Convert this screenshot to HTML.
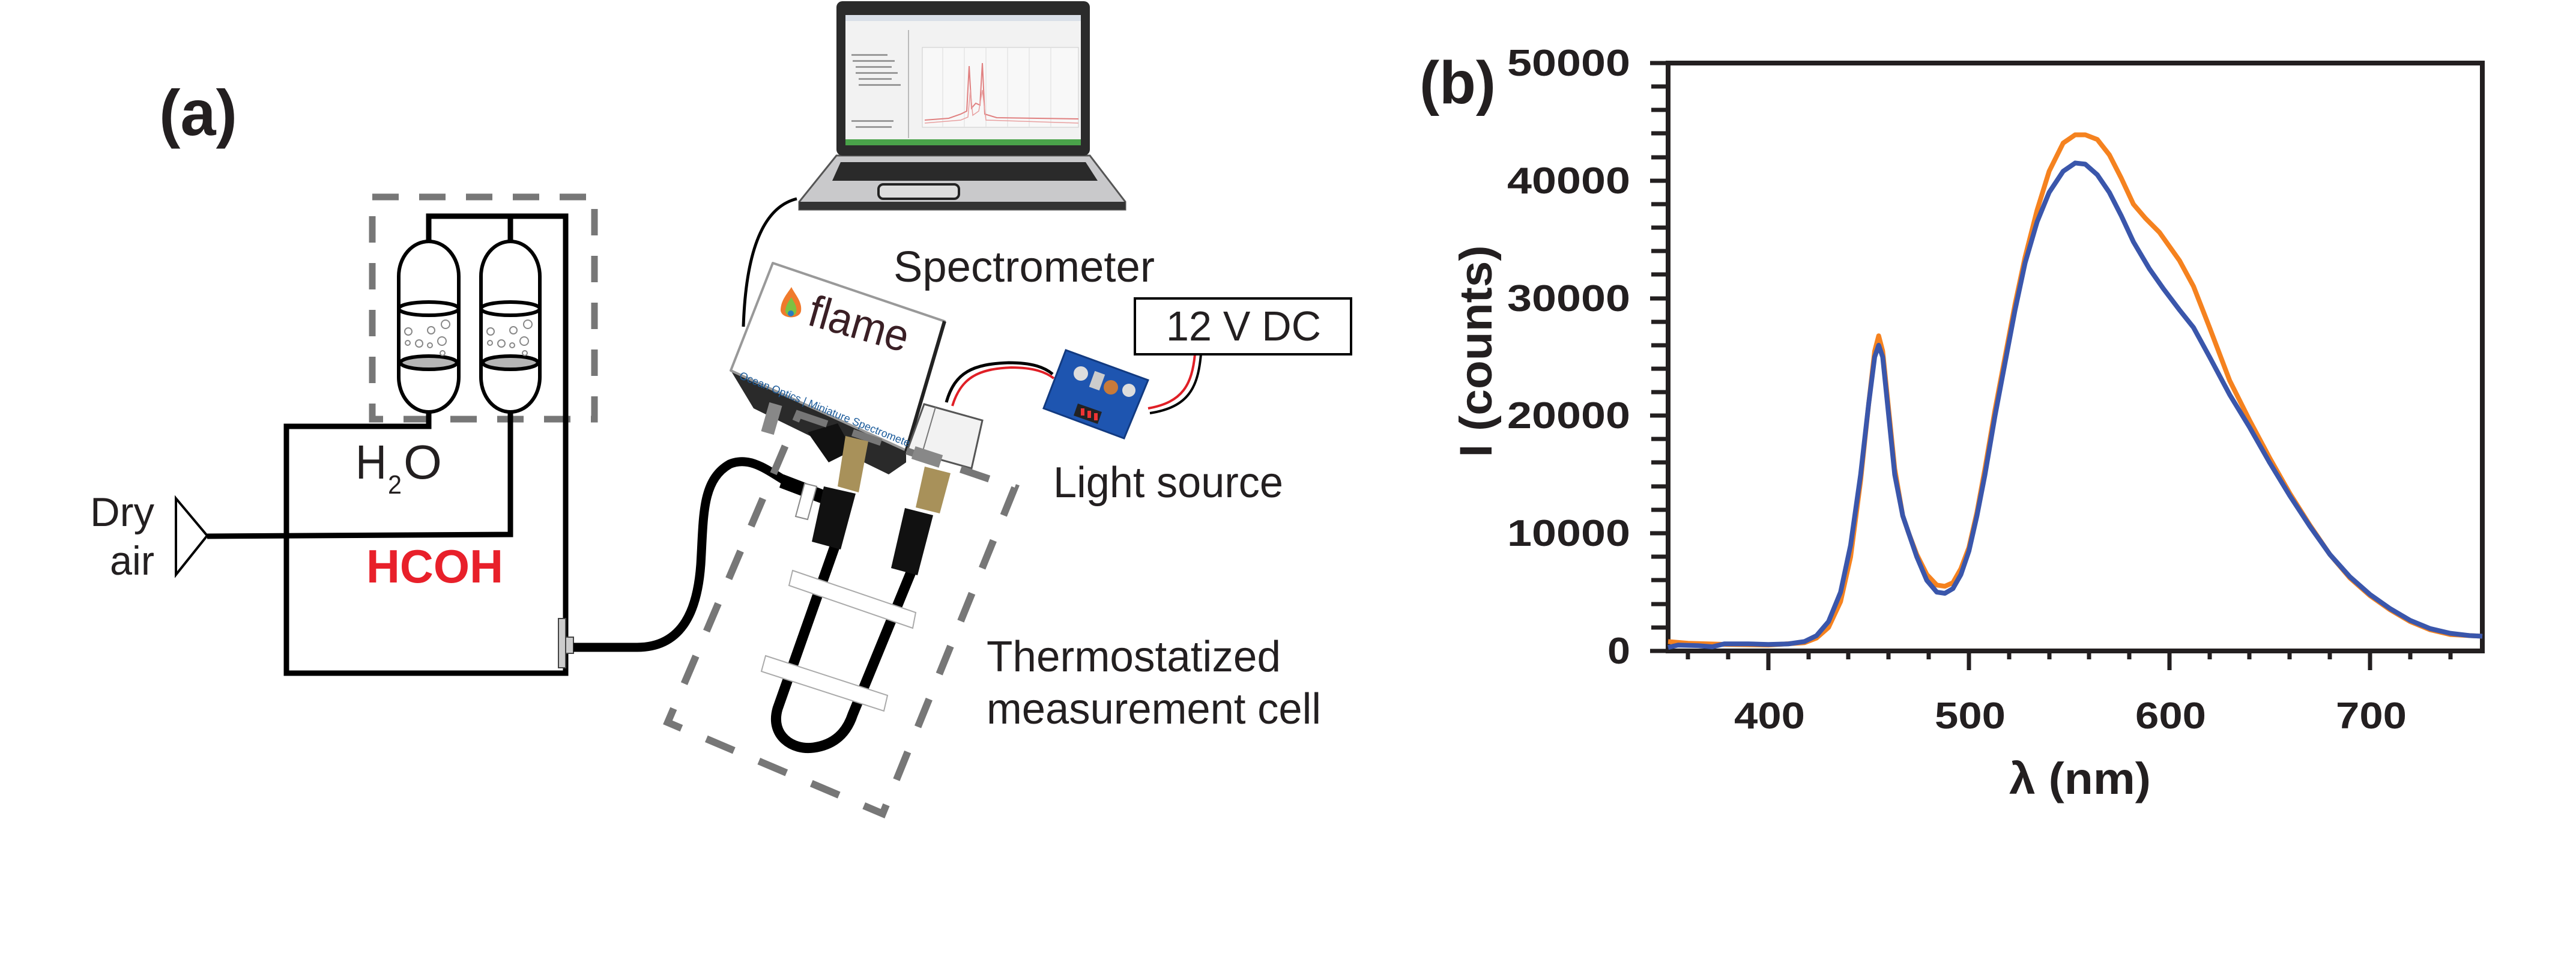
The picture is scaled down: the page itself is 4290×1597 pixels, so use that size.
<!DOCTYPE html>
<html><head><meta charset="utf-8"><style>
html,body{margin:0;padding:0;background:#fff;}
svg{display:block;}
text{font-family:"Liberation Sans",sans-serif;fill:#231f20;}
</style></head><body>
<svg width="4290" height="1597" viewBox="0 0 4290 1597" xmlns="http://www.w3.org/2000/svg">
<rect width="4290" height="1597" fill="#fff"/>

<!-- (a) label -->
<text x="265" y="225" font-size="108" font-weight="bold" textLength="130" lengthAdjust="spacingAndGlyphs">(a)</text>

<!-- dashed box around bubblers -->
<rect x="620" y="328" width="370" height="370" fill="none" stroke="#777" stroke-width="11" stroke-dasharray="44 34"/>

<!-- pipes -->
<g stroke="#000" stroke-width="9" fill="none" stroke-linejoin="miter">
  <polyline points="714,401 714,360 942,360 942,1121 477,1121 477,710 714,710 714,687"/>
  <line x1="850" y1="360" x2="850" y2="401"/>
  <polyline points="345,893 850,890 850,687"/>
</g>

<!-- bubblers -->
<g stroke="#000" stroke-width="6" fill="#fff">
  <rect x="664" y="402" width="100" height="284" rx="50" ry="58"/>
  <rect x="801" y="402" width="98" height="284" rx="49" ry="58"/>
</g>
<g stroke="#000" stroke-width="6">
  <ellipse cx="714" cy="514" rx="50" ry="11" fill="#fff"/>
  <ellipse cx="714" cy="604" rx="47" ry="11" fill="#b5b5b5"/>
  <ellipse cx="850" cy="514" rx="49" ry="11" fill="#fff"/>
  <ellipse cx="850" cy="604" rx="46" ry="11" fill="#b5b5b5"/>
</g>
<g stroke="#888" stroke-width="2" fill="none">
  <circle cx="680" cy="552" r="6"/><circle cx="718" cy="550" r="6"/><circle cx="742" cy="540" r="7"/>
  <circle cx="679" cy="571" r="4"/><circle cx="698" cy="572" r="6"/><circle cx="716" cy="575" r="4"/><circle cx="736" cy="568" r="7"/><circle cx="737" cy="588" r="4"/>
  <circle cx="817" cy="552" r="6"/><circle cx="855" cy="550" r="6"/><circle cx="879" cy="540" r="7"/>
  <circle cx="816" cy="571" r="4"/><circle cx="835" cy="572" r="6"/><circle cx="853" cy="575" r="4"/><circle cx="873" cy="568" r="7"/><circle cx="874" cy="588" r="4"/>
</g>

<!-- dry air triangle -->
<polygon points="293,830 345,892 293,957" fill="#fff" stroke="#000" stroke-width="4"/>
<text x="257" y="876" font-size="68" text-anchor="end" textLength="107" lengthAdjust="spacingAndGlyphs">Dry</text>
<text x="257" y="957" font-size="68" text-anchor="end" textLength="74" lengthAdjust="spacingAndGlyphs">air</text>

<!-- H2O / HCOH -->
<text x="592" y="797" font-size="80" textLength="52" lengthAdjust="spacingAndGlyphs">H</text>
<text x="646" y="822" font-size="44" textLength="23" lengthAdjust="spacingAndGlyphs">2</text>
<text x="672" y="797" font-size="80" textLength="64" lengthAdjust="spacingAndGlyphs">O</text>
<text x="610" y="970" font-size="78" font-weight="bold" style="fill:#e8202a" textLength="228" lengthAdjust="spacingAndGlyphs">HCOH</text>

<!-- connector -->
<rect x="930" y="1030" width="12" height="82" fill="#ccc" stroke="#444" stroke-width="2"/>
<rect x="942" y="1061" width="13" height="27" fill="#ccc" stroke="#444" stroke-width="2"/>

<!-- black tube to cell -->
<path d="M955,1078 L1061,1078 C1140,1078 1162,1010 1167,940 C1172,860 1168,800 1215,773 C1250,758 1280,785 1315,805" fill="none" stroke="#000" stroke-width="15"/>
<polygon points="1305,790 1378,818 1372,840 1298,812" fill="#000"/>

<!-- laptop -->
<path d="M1393,259 L1815,259 L1874,336 L1874,349 L1331,349 L1331,336 Z" fill="#c9c9cb" stroke="#555" stroke-width="3"/>
<rect x="1331" y="336" width="543" height="13" fill="#333"/>
<polygon points="1400,270 1808,270 1828,301 1386,301" fill="#2a2a2a"/>
<rect x="1463" y="307" width="134" height="24" rx="8" fill="#ddd" stroke="#222" stroke-width="4"/>
<rect x="1393" y="2" width="422" height="257" rx="10" fill="#2b2b2b"/>
<rect x="1408" y="25" width="392" height="217" fill="#f2f2f2"/>
<rect x="1408" y="25" width="392" height="10" fill="#d9dfe8"/>
<rect x="1408" y="232" width="392" height="10" fill="#4aa34a"/>
<rect x="1512" y="50" width="2" height="180" fill="#bbb"/>
<rect x="1536" y="79" width="260" height="133" fill="#f8f8f8" stroke="#ccc" stroke-width="1"/>
<g stroke="#ddd" stroke-width="1">
<line x1="1570" y1="79" x2="1570" y2="212"/><line x1="1606" y1="79" x2="1606" y2="212"/><line x1="1642" y1="79" x2="1642" y2="212"/><line x1="1678" y1="79" x2="1678" y2="212"/><line x1="1714" y1="79" x2="1714" y2="212"/><line x1="1750" y1="79" x2="1750" y2="212"/>
</g>
<path d="M1540,200 L1580,197 L1600,190 L1610,185 L1614,110 L1618,180 L1625,172 L1632,175 L1636,105 L1640,190 L1660,196 L1796,198" fill="none" stroke="#e08080" stroke-width="2"/>
<path d="M1540,205 L1600,200 L1612,195 L1616,150 L1620,192 L1630,185 L1636,150 L1642,200 L1796,205" fill="none" stroke="#e8a0a0" stroke-width="1.5"/>
<g fill="#999"><rect x="1418" y="90" width="60" height="3"/><rect x="1420" y="100" width="70" height="3"/><rect x="1425" y="110" width="60" height="3"/><rect x="1425" y="120" width="70" height="3"/><rect x="1430" y="130" width="55" height="3"/><rect x="1430" y="140" width="70" height="3"/><rect x="1418" y="200" width="70" height="3"/><rect x="1425" y="210" width="60" height="3"/></g>
<path d="M1327,331 C1270,345 1242,420 1238,544" fill="none" stroke="#000" stroke-width="5"/>

<!-- spectrometer -->
<polygon points="1217,617 1255,680 1480,790 1509,770 1509,750" fill="#2a2a2a"/>
<polygon points="1345,720 1395,705 1420,750 1380,770" fill="#111"/>
<polygon points="1287,438 1573,535 1509,750 1217,617" fill="#fff" stroke="#999" stroke-width="4" stroke-linejoin="round"/>
<line x1="1573" y1="535" x2="1509" y2="752" stroke="#222" stroke-width="6"/>
<path d="M1300,517 C1300,500 1312,488 1318,478 C1325,492 1336,502 1334,518 C1332,532 1302,532 1300,517 Z" fill="#f07a2c"/>
<path d="M1308,518 C1308,508 1315,500 1318,495 C1322,503 1328,510 1326,520 C1324,528 1309,528 1308,518 Z" fill="#7cc242"/>
<circle cx="1317" cy="522" r="5" fill="#2a7bbf"/>
<text x="0" y="0" font-size="74" transform="translate(1342,540) rotate(16)" style="fill:#3a1f25" textLength="170" lengthAdjust="spacingAndGlyphs">flame</text>
<text x="0" y="0" font-size="18" transform="translate(1230,630) rotate(22)" style="fill:#1a5a9a">Ocean Optics | Miniature Spectrometer</text>

<!-- light source -->
<polygon points="1539,673 1636,700 1618,780 1511,750" fill="#f2f2f2" stroke="#555" stroke-width="3"/>
<line x1="1558" y1="678" x2="1535" y2="757" stroke="#777" stroke-width="2"/>

<!-- wires -->
<path d="M1576,670 C1590,620 1620,606 1680,604 C1720,604 1740,612 1753,623" fill="none" stroke="#000" stroke-width="5"/>
<path d="M1586,676 C1600,630 1628,614 1684,612 C1722,612 1742,620 1755,630" fill="none" stroke="#e01f26" stroke-width="4"/>
<path d="M1990,590 C1985,640 1970,670 1912,680" fill="none" stroke="#e01f26" stroke-width="4"/>
<path d="M2000,590 C1995,645 1980,678 1915,688" fill="none" stroke="#000" stroke-width="4"/>

<!-- driver board -->
<polygon points="1775,583 1912,633 1872,730 1738,680" fill="#1e55b0" stroke="#123a80" stroke-width="3"/>
<circle cx="1800" cy="622" r="12" fill="#ddd"/>
<circle cx="1880" cy="650" r="11" fill="#ddd"/>
<circle cx="1850" cy="645" r="12" fill="#c87a3a"/>
<rect x="1818" y="620" width="18" height="28" fill="#ccc" transform="rotate(20 1827 634)"/>
<polygon points="1795,672 1835,686 1828,706 1788,692" fill="#222"/>
<g fill="#e33"><rect x="1800" y="680" width="6" height="12"/><rect x="1811" y="684" width="6" height="12"/><rect x="1822" y="688" width="6" height="12"/></g>

<!-- 12 V DC box -->
<rect x="1890" y="497" width="360" height="93" fill="#fff" stroke="#000" stroke-width="4"/>
<text x="1942" y="567" font-size="70" textLength="258" lengthAdjust="spacingAndGlyphs">12 V DC</text>

<!-- labels -->
<text x="1488" y="469" font-size="72" textLength="435" lengthAdjust="spacingAndGlyphs">Spectrometer</text>
<text x="1754" y="828" font-size="72" textLength="383" lengthAdjust="spacingAndGlyphs">Light source</text>
<text x="1643" y="1118" font-size="72" textLength="490" lengthAdjust="spacingAndGlyphs">Thermostatized</text>
<text x="1643" y="1205" font-size="72" textLength="557" lengthAdjust="spacingAndGlyphs">measurement cell</text>

<!-- measurement cell dashed box -->
<polygon points="1330,690 1690,812 1470,1355 1112,1203" fill="none" stroke="#777" stroke-width="12" stroke-dasharray="50 45"/>

<!-- U tube -->
<path d="M1392,905 L1295,1180 C1282,1225 1320,1250 1355,1245 C1390,1240 1410,1220 1420,1190 L1520,946" fill="none" stroke="#000" stroke-width="17"/>
<!-- ferrules -->
<polygon points="1408,726 1446,735 1430,820 1395,810" fill="#a8915a"/>
<polygon points="1540,777 1583,788 1565,855 1525,845" fill="#a8915a"/>
<!-- black connectors -->
<polygon points="1372,810 1425,822 1400,915 1352,902" fill="#111"/>
<polygon points="1507,846 1554,858 1528,958 1484,946" fill="#111"/>
<!-- white clip -->
<polygon points="1340,805 1360,810 1345,865 1325,860" fill="#fff" stroke="#888" stroke-width="2"/>
<!-- white bands -->
<polygon points="1320,950 1525,1020 1520,1046 1314,975" fill="#fff" stroke="#aaa" stroke-width="2"/>
<polygon points="1275,1092 1478,1158 1472,1184 1268,1118" fill="#fff" stroke="#aaa" stroke-width="2"/>
<!-- spectrometer port tabs -->
<rect x="1274" y="672" width="22" height="50" fill="#888" transform="rotate(16 1285 697)"/>
<rect x="1520" y="750" width="48" height="22" fill="#888" transform="rotate(18 1544 761)"/>

<!-- (b) plot -->
<text x="2364" y="172" font-size="100" font-weight="bold" textLength="127" lengthAdjust="spacingAndGlyphs">(b)</text>
<rect x="2778" y="105" width="1356" height="979" fill="none" stroke="#231f20" stroke-width="8"/>
<g stroke="#231f20" stroke-width="7">
<line x1="2748" y1="1084" x2="2778" y2="1084"/><line x1="2750" y1="1045" x2="2778" y2="1045"/><line x1="2750" y1="1006" x2="2778" y2="1006"/><line x1="2750" y1="966" x2="2778" y2="966"/><line x1="2750" y1="927" x2="2778" y2="927"/>
<line x1="2748" y1="888" x2="2778" y2="888"/><line x1="2750" y1="849" x2="2778" y2="849"/><line x1="2750" y1="810" x2="2778" y2="810"/><line x1="2750" y1="770" x2="2778" y2="770"/><line x1="2750" y1="731" x2="2778" y2="731"/>
<line x1="2748" y1="692" x2="2778" y2="692"/><line x1="2750" y1="653" x2="2778" y2="653"/><line x1="2750" y1="614" x2="2778" y2="614"/><line x1="2750" y1="575" x2="2778" y2="575"/><line x1="2750" y1="536" x2="2778" y2="536"/>
<line x1="2748" y1="497" x2="2778" y2="497"/><line x1="2750" y1="457" x2="2778" y2="457"/><line x1="2750" y1="418" x2="2778" y2="418"/><line x1="2750" y1="379" x2="2778" y2="379"/><line x1="2750" y1="340" x2="2778" y2="340"/>
<line x1="2748" y1="301" x2="2778" y2="301"/><line x1="2750" y1="262" x2="2778" y2="262"/><line x1="2750" y1="222" x2="2778" y2="222"/><line x1="2750" y1="183" x2="2778" y2="183"/><line x1="2750" y1="144" x2="2778" y2="144"/>
<line x1="2748" y1="105" x2="2778" y2="105"/>
</g>
<g stroke="#231f20" stroke-width="7">
<line x1="2811" y1="1084" x2="2811" y2="1098"/><line x1="2878" y1="1084" x2="2878" y2="1098"/><line x1="2945" y1="1084" x2="2945" y2="1116"/><line x1="3012" y1="1084" x2="3012" y2="1098"/><line x1="3078" y1="1084" x2="3078" y2="1098"/>
<line x1="3145" y1="1084" x2="3145" y2="1098"/><line x1="3212" y1="1084" x2="3212" y2="1098"/><line x1="3279" y1="1084" x2="3279" y2="1116"/><line x1="3346" y1="1084" x2="3346" y2="1098"/><line x1="3413" y1="1084" x2="3413" y2="1098"/>
<line x1="3479" y1="1084" x2="3479" y2="1098"/><line x1="3546" y1="1084" x2="3546" y2="1098"/><line x1="3613" y1="1084" x2="3613" y2="1116"/><line x1="3680" y1="1084" x2="3680" y2="1098"/><line x1="3746" y1="1084" x2="3746" y2="1098"/>
<line x1="3813" y1="1084" x2="3813" y2="1098"/><line x1="3880" y1="1084" x2="3880" y2="1098"/><line x1="3947" y1="1084" x2="3947" y2="1116"/><line x1="4014" y1="1084" x2="4014" y2="1098"/><line x1="4081" y1="1084" x2="4081" y2="1098"/>
</g>
<g font-size="62" font-weight="bold" text-anchor="end">
<text x="2715" y="1105" textLength="38" lengthAdjust="spacingAndGlyphs">0</text>
<text x="2715" y="909" textLength="205" lengthAdjust="spacingAndGlyphs">10000</text>
<text x="2715" y="713" textLength="205" lengthAdjust="spacingAndGlyphs">20000</text>
<text x="2715" y="518" textLength="205" lengthAdjust="spacingAndGlyphs">30000</text>
<text x="2715" y="322" textLength="205" lengthAdjust="spacingAndGlyphs">40000</text>
<text x="2715" y="126" textLength="205" lengthAdjust="spacingAndGlyphs">50000</text>
</g>
<g font-size="62" font-weight="bold" text-anchor="middle">
<text x="2947" y="1213" textLength="118" lengthAdjust="spacingAndGlyphs">400</text>
<text x="3281" y="1213" textLength="118" lengthAdjust="spacingAndGlyphs">500</text>
<text x="3615" y="1213" textLength="118" lengthAdjust="spacingAndGlyphs">600</text>
<text x="3949" y="1213" textLength="118" lengthAdjust="spacingAndGlyphs">700</text>
</g>
<text x="3464" y="1322" font-size="74" font-weight="bold" text-anchor="middle" textLength="236" lengthAdjust="spacingAndGlyphs">λ (nm)</text>
<text x="0" y="0" font-size="76" font-weight="bold" text-anchor="middle" transform="translate(2484,585) rotate(-90)" textLength="353" lengthAdjust="spacingAndGlyphs">I (counts)</text>

<g transform="translate(1609,1084) scale(3.34,-0.01958)" fill="none" stroke-linejoin="round">
<path vector-effect="non-scaling-stroke" stroke="#f5821f" stroke-width="8" d="M350,800 L360,650 L380,550 L400,500 L418,700 L424,1100 L430,2000 L436,4200 L441,8000 L446,14500 L450,21000 L453,25500 L455,26800 L457,25500 L460,20500 L463,15500 L467,11500 L470,10000 L474,8200 L479,6500 L484,5600 L488,5500 L492,5800 L496,7000 L500,8800 L504,11800 L508,15500 L513,20500 L518,25000 L523,29500 L528,33500 L534,37500 L540,40800 L547,43200 L553,43900 L558,43900 L564,43500 L570,42200 L576,40200 L582,38000 L588,36800 L595,35600 L605,33200 L612,31000 L620,27500 L630,23000 L640,19600 L650,16400 L660,13400 L670,10700 L680,8200 L690,6200 L700,4700 L710,3500 L720,2500 L730,1800 L740,1400 L750,1300 L756,1250"/>
<path vector-effect="non-scaling-stroke" stroke="#3a56ab" stroke-width="8" d="M350,300 L355,500 L365,450 L372,350 L378,600 L390,600 L400,550 L410,600 L418,800 L424,1300 L430,2500 L436,5000 L441,9000 L446,15000 L450,21000 L453,25000 L455,26000 L457,25000 L460,20000 L463,15000 L467,11500 L470,10000 L474,8000 L479,6000 L484,5000 L488,4900 L492,5300 L496,6500 L500,8500 L504,11500 L508,15000 L513,20000 L518,24500 L523,29000 L528,33000 L534,36500 L540,39000 L547,40800 L553,41500 L558,41400 L564,40500 L570,39000 L576,37000 L582,34800 L590,32500 L597,30800 L605,29000 L612,27500 L620,25000 L630,21800 L640,19000 L650,16000 L660,13200 L670,10600 L680,8200 L690,6300 L700,4800 L710,3600 L720,2600 L730,1900 L740,1500 L750,1300 L756,1250"/>
</g>
</svg>
</body></html>
